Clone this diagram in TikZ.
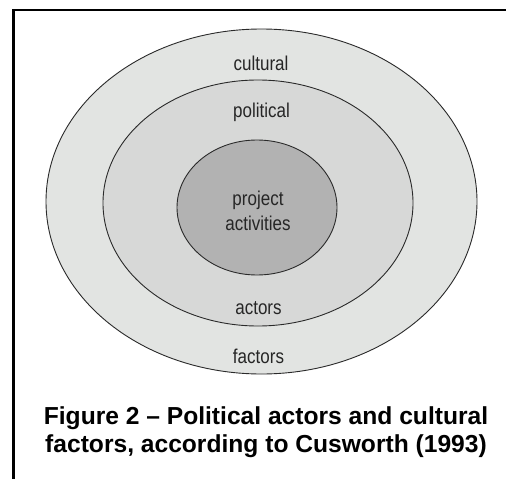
\documentclass[tikz,border=0pt]{standalone}
\usepackage{fontspec}
\setmainfont{Liberation Sans}
\newfontfamily\ringfont[FakeStretch=0.85]{Liberation Sans}
\usetikzlibrary{shapes.geometric}
\definecolor{outerfill}{HTML}{E2E4E2}
\definecolor{middlefill}{HTML}{D7D8D7}
\definecolor{innerfill}{HTML}{B2B2B2}
\definecolor{ringline}{HTML}{2A2A2A}
\tikzset{
  ring/.style={ellipse, draw=ringline, line width=0.9pt, inner sep=0pt},
  ringlabel/.style={font=\ringfont\fontsize{20}{25}\selectfont, text=black!85,
    align=center, anchor=base, inner sep=0pt},
  caption/.style={font=\bfseries\fontsize{24.6}{28.3}\selectfont, align=center,
    anchor=base, inner sep=0pt}
}
\begin{document}
\begin{tikzpicture}[x=1pt,y=-1pt]
  \useasboundingbox (0,0) rectangle (506,479);
  \fill[white] (0,0) rectangle (506,479);
  % frame (top and left edges of the enclosing box)
  \draw[line width=2.8pt] (13.3,479) -- (13.3,10) -- (506,10);
  % nested regions
  \node[ring, fill=outerfill, minimum width=431, minimum height=345] (outer) at (261.5,201.5) {};
  \node[ring, fill=middlefill, minimum width=310, minimum height=246] (middle) at (258,203) {};
  \node[ring, fill=innerfill, minimum width=160, minimum height=135] (inner) at (257,207.5) {};
  % labels
  \node[ringlabel] (cultural) at (261,70) {cultural};
  \node[ringlabel] (political) at (261.5,117) {political};
  \node[ringlabel] (project) at (258,205) {project};
  \node[ringlabel] (activities) at (258,230) {activities};
  \node[ringlabel] (actors) at (258.5,314) {actors};
  \node[ringlabel] (factors) at (258.5,363) {factors};
  % caption
  \node[caption] (capA) at (266,424) {Figure 2 -- Political actors and cultural};
  \node[caption] (capB) at (266,452) {factors, according to Cusworth (1993)};
\end{tikzpicture}
\end{document}
